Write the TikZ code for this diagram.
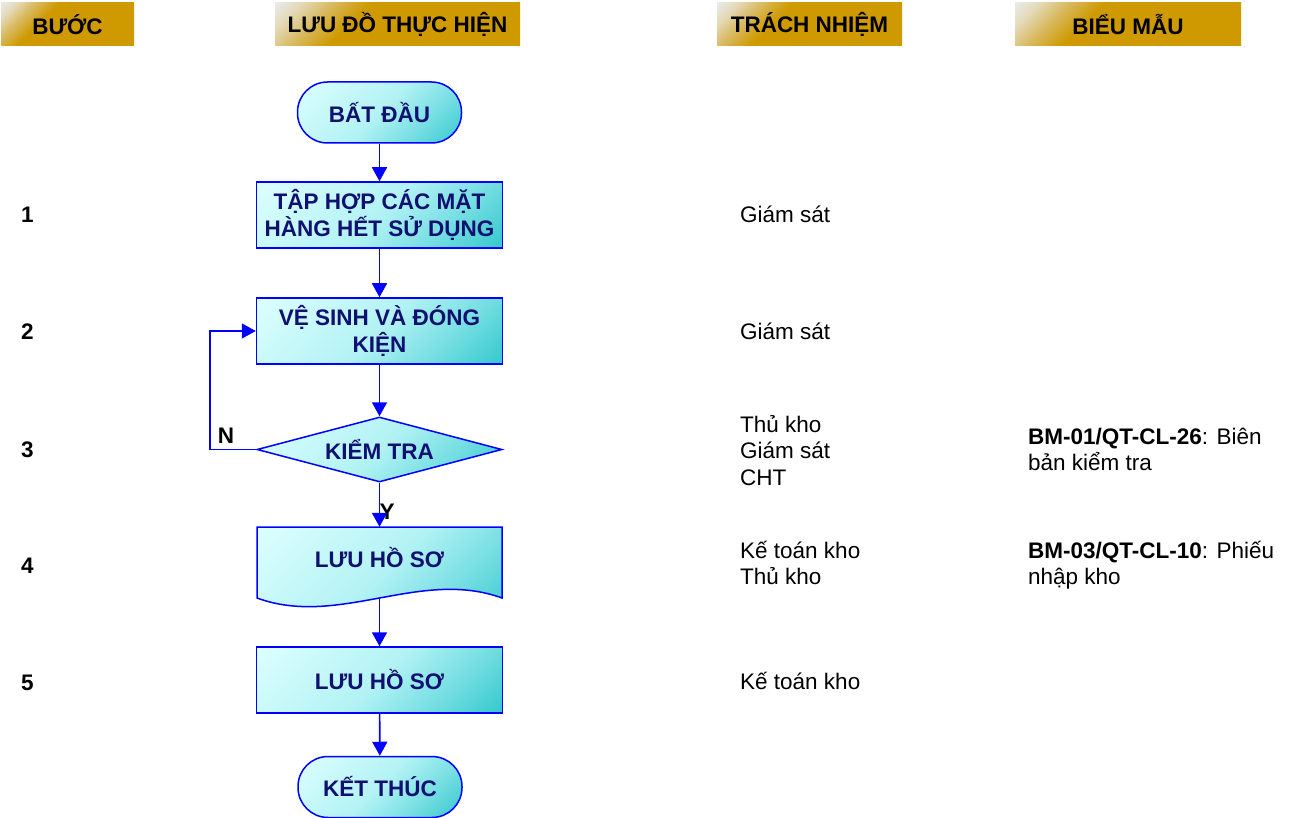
\documentclass[tikz,border=0pt]{standalone}
\usepackage{fontspec}
\setmainfont{Liberation Sans}
\usetikzlibrary{arrows.meta,shapes.geometric}
\definecolor{navy}{RGB}{16,16,112}
\definecolor{cyanL}{RGB}{222,255,255}
\definecolor{cyanM}{RGB}{178,242,244}
\definecolor{cyanQ}{RGB}{118,222,226}
\definecolor{cyanD}{RGB}{50,200,205}
\definecolor{goldL}{RGB}{234,238,246}
\definecolor{goldK}{RGB}{228,218,185}
\definecolor{goldM}{RGB}{216,184,92}
\definecolor{goldD}{RGB}{206,154,0}
\definecolor{lineblue}{RGB}{0,0,255}
\pgfdeclareverticalshading{hdrsh}{100bp}{color(0bp)=(goldD); color(62bp)=(goldD); color(71bp)=(goldM); color(79bp)=(goldK); color(87bp)=(goldL); color(100bp)=(goldL)}
\pgfdeclareverticalshading{cysh}{100bp}{color(0bp)=(cyanD); color(14bp)=(cyanD); color(32bp)=(cyanQ); color(50bp)=(cyanM); color(86bp)=(cyanL); color(100bp)=(cyanL)}
\begin{document}
\begin{tikzpicture}[x=1pt,y=-1pt,
  every node/.style={inner sep=0pt},
  txt/.style={font=\fontsize{22.5}{26.5}\selectfont, text=black, anchor=base west},
  bold/.style={font=\fontsize{22.5}{26.5}\selectfont\bfseries, text=black},
  hdr/.style={rectangle, shade, shading=hdrsh, shading angle=45, minimum height=43pt,
    font=\fontsize{22.5}{26.5}\selectfont\bfseries, text=black},
  flow/.style={draw=lineblue, line width=1.5pt, shade, shading=cysh, shading angle=45,
    text=navy, font=\fontsize{22.5}{27}\selectfont\bfseries, align=center},
  proc/.style={flow, rectangle, minimum width=246pt, minimum height=66pt},
  term/.style={flow, rectangle, rounded corners=30pt, minimum width=164pt, minimum height=61pt},
  arr/.style={draw=lineblue, line width=1.6pt, -{Triangle[width=15pt,length=14pt]}}
]
\useasboundingbox (0,0) rectangle (1290,818);

% headers
\node[hdr, minimum width=133pt] (h1) at (67.5,24.5) {BƯỚC};
\node[hdr, minimum width=245pt] (h2) at (397.5,24.5) {LƯU ĐỒ THỰC HIỆN};
\node[hdr, minimum width=185pt] (h3) at (809.5,24.5) {TRÁCH NHIỆM};
\node[hdr, minimum width=226pt] (h4) at (1128,24.5) {BIỂU MẪU};

% step numbers
\node[bold, anchor=base west] (n1) at (21,223) {1};
\node[bold, anchor=base west] (n2) at (21,339) {2};
\node[bold, anchor=base west] (n3) at (21,457) {3};
\node[bold, anchor=base west] (n4) at (21,573) {4};
\node[bold, anchor=base west] (n5) at (21,690) {5};

% flow nodes
\node[term] (start) at (379.5,112.5) {BẤT ĐẦU};
\node[proc] (s1) at (379.5,215) {TẬP HỢP CÁC MẶT\\HÀNG HẾT SỬ DỤNG};
\node[proc] (s2) at (379.5,331) {VỆ SINH VÀ ĐÓNG\\KIỆN};
\node[flow, diamond, aspect=3.77, minimum width=245pt, minimum height=65pt] (chk) at (379.5,449.5) {KIỂM TRA};
\path[flow] (257,527) -- (502,527) -- (502,598) .. controls (420,568) and (339,628) .. (257,598) -- cycle;
\node[minimum width=245pt, minimum height=71pt] (doc) at (379.5,562.5) {};
\node[text=navy, font=\fontsize{22.5}{27}\selectfont\bfseries] (doctext) at (379.5,558) {LƯU HỒ SƠ};
\coordinate (docb) at (379.5,598);
\node[proc] (s5) at (379.5,680) {LƯU HỒ SƠ};
\node[term] (stop) at (380,787) {KẾT THÚC};

% labels
\node[bold] (lblN) at (226,436) {N};
\node[bold] (lblY) at (387,512) {Y};

% connectors
\draw[arr] (start) -- (s1);
\draw[arr] (s1) -- (s2);
\draw[arr] (s2) -- (chk);
\draw[arr] (chk.south) -- (doc.north);
\draw[arr] (docb) -- (s5.north);
\draw[arr] (s5) -- (stop);
\draw[arr] (chk.west) -- ++(-46,0) |- (s2.west);

% responsibilities
\node[txt] (r1) at (740,223) {Giám sát};
\node[txt] (r2) at (740,339) {Giám sát};
\node[txt] (r3a) at (740,432) {Thủ kho};
\node[txt] (r3b) at (740,458.5) {Giám sát};
\node[txt] (r3c) at (740,485) {CHT};
\node[txt] (r4a) at (740,558) {Kế toán kho};
\node[txt] (r4b) at (740,584.5) {Thủ kho};
\node[txt] (r5) at (740,689) {Kế toán kho};

% forms
\node[txt] (f3a) at (1028,444) {\textbf{BM-01/QT-CL-26}: Biên};
\node[txt] (f3b) at (1028,470.5) {bản kiểm tra};
\node[txt] (f4a) at (1028,558) {\textbf{BM-03/QT-CL-10}: Phiếu};
\node[txt] (f4b) at (1028,584.5) {nhập kho};
\end{tikzpicture}
\end{document}
